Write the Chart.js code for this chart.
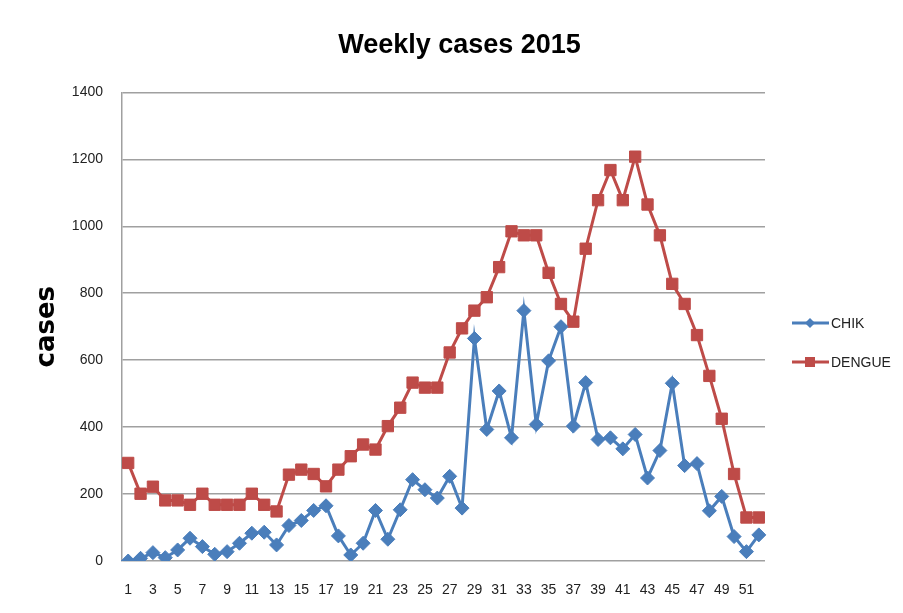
<!DOCTYPE html>
<html>
<head>
<meta charset="utf-8">
<script src="https://cdn.jsdelivr.net/npm/chart.js@4"></script>
<style>
  body { margin: 0; background: #fff; }
</style>
</head>
<body>
<canvas id="myChart" width="903" height="613"></canvas>
<script>
const weeks = [];
for (let w = 1; w <= 52; w++) weeks.push(String(w));

const chik = [
    0, 8, 25, 10, 33, 68, 43, 20, 28, 53,
    83, 86, 48, 106, 121, 151, 165, 75, 18, 53,
    151, 65, 153, 243, 213, 188, 253, 158, 665, 393,
    508, 368, 748, 408, 598, 700, 403, 533, 363, 368,
    335, 378, 248, 330, 531, 285, 291, 150, 193, 73,
    28, 78,
];
const dengue = [
    293, 201, 222, 181, 181, 168, 201, 168, 168, 168,
    201, 168, 148, 258, 273, 260, 223, 273, 313, 348,
    333, 403, 458, 533, 518, 518, 623, 695, 748, 788,
    878, 985, 973, 973, 861, 768, 715, 933, 1078, 1168,
    1078, 1208, 1065, 973, 828, 768, 675, 553, 425, 260,
    130, 130,
];
const yTicks = [0, 200, 400, 600, 800, 1000, 1200, 1400];

const blue = "#4a7ebb";
const red = "#be4b48";
const gridColor = "#a0a0a0";
const font = "'Liberation Sans', Arial, sans-serif";

// legend drawn as line + marker, like the spreadsheet one
const sideLegend = {
    id: "sideLegend",
    afterDraw(chart) {
        const ctx = chart.ctx;
        const items = [
            { text: "CHIK", color: blue, y: 323, marker: "diamond" },
            { text: "DENGUE", color: red, y: 362, marker: "square" },
        ];
        ctx.save();
        items.forEach((it) => {
            ctx.strokeStyle = it.color;
            ctx.fillStyle = it.color;
            ctx.lineWidth = 3;
            ctx.beginPath();
            ctx.moveTo(792, it.y);
            ctx.lineTo(829, it.y);
            ctx.stroke();
            const cx = 810;
            ctx.beginPath();
            if (it.marker === "diamond") {
                ctx.moveTo(cx, it.y - 5);
                ctx.lineTo(cx + 5, it.y);
                ctx.lineTo(cx, it.y + 5);
                ctx.lineTo(cx - 5, it.y);
                ctx.closePath();
            } else {
                ctx.rect(cx - 5, it.y - 5, 10, 10);
            }
            ctx.fill();
            ctx.fillStyle = "#222";
            ctx.font = "14px " + font;
            ctx.textBaseline = "middle";
            ctx.textAlign = "left";
            ctx.fillText(it.text, 831, it.y + 1);
        });
        ctx.restore();
    },
};

const data = {
    labels: weeks,
    datasets: [
        {
            label: "CHIK",
            data: chik,
            borderColor: blue,
            backgroundColor: blue,
            pointBackgroundColor: blue,
            pointBorderColor: blue,
            borderWidth: 3,
            pointStyle: "rectRot",
            pointRadius: 7,
            pointBorderWidth: 1,
            tension: 0,
        },
        {
            label: "DENGUE",
            data: dengue,
            borderColor: red,
            backgroundColor: red,
            pointBackgroundColor: red,
            pointBorderColor: red,
            borderWidth: 3,
            pointStyle: "rect",
            pointRadius: 8,
            pointBorderWidth: 1,
            tension: 0,
        },
    ],
};

const config = {
    type: "line",
    data: data,
    plugins: [sideLegend],
    options: {
        responsive: false,
        animation: false,
        layout: { padding: { left: 16, right: 0, top: 0, bottom: 0 } },
        plugins: {
            legend: { display: false },
            tooltip: { enabled: false },
            title: {
                display: true,
                text: "Weekly cases 2015",
                color: "#000",
                font: { family: font, size: 27, weight: "bold", lineHeight: 1.2 },
                padding: { top: 29, bottom: 31 },
            },
        },
        scales: {
            x: {
                offset: true,
                grid: { display: false, drawTicks: false },
                border: { display: false },
                ticks: {
                    autoSkip: false,
                    maxRotation: 0,
                    padding: 21,
                    color: "#222",
                    font: { family: font, size: 14 },
                    callback: function (val, i) {
                        return i % 2 === 0 ? weeks[i] : "";
                    },
                },
                afterFit: function (s) { s.height = 52; },
            },
            y: {
                min: 0,
                max: 1400,
                afterBuildTicks: function (s) {
                    s.ticks = yTicks.map((v) => ({ value: v }));
                },
                grid: { color: gridColor, lineWidth: 1.5, drawTicks: false },
                border: { display: true, color: gridColor, width: 1.5 },
                ticks: {
                    padding: 19,
                    color: "#222",
                    font: { family: font, size: 14 },
                    callback: function (val) { return String(val); },
                },
                title: {
                    display: true,
                    text: "cases",
                    color: "#000",
                    font: { family: "'DejaVu Sans', sans-serif", size: 26, weight: "bold", lineHeight: 1.2 },
                    padding: { top: 16, bottom: 0 },
                },
                afterFit: function (s) { s.width = 106; },
            },
            y2: {
                position: "right",
                display: true,
                grid: { display: false },
                border: { display: false },
                ticks: { display: false },
                afterFit: function (s) { s.width = 138; },
            },
        },
    },
};

const ctx = document.getElementById("myChart").getContext("2d");
const myChart = new Chart(ctx, config);
</script>
</body>
</html>
